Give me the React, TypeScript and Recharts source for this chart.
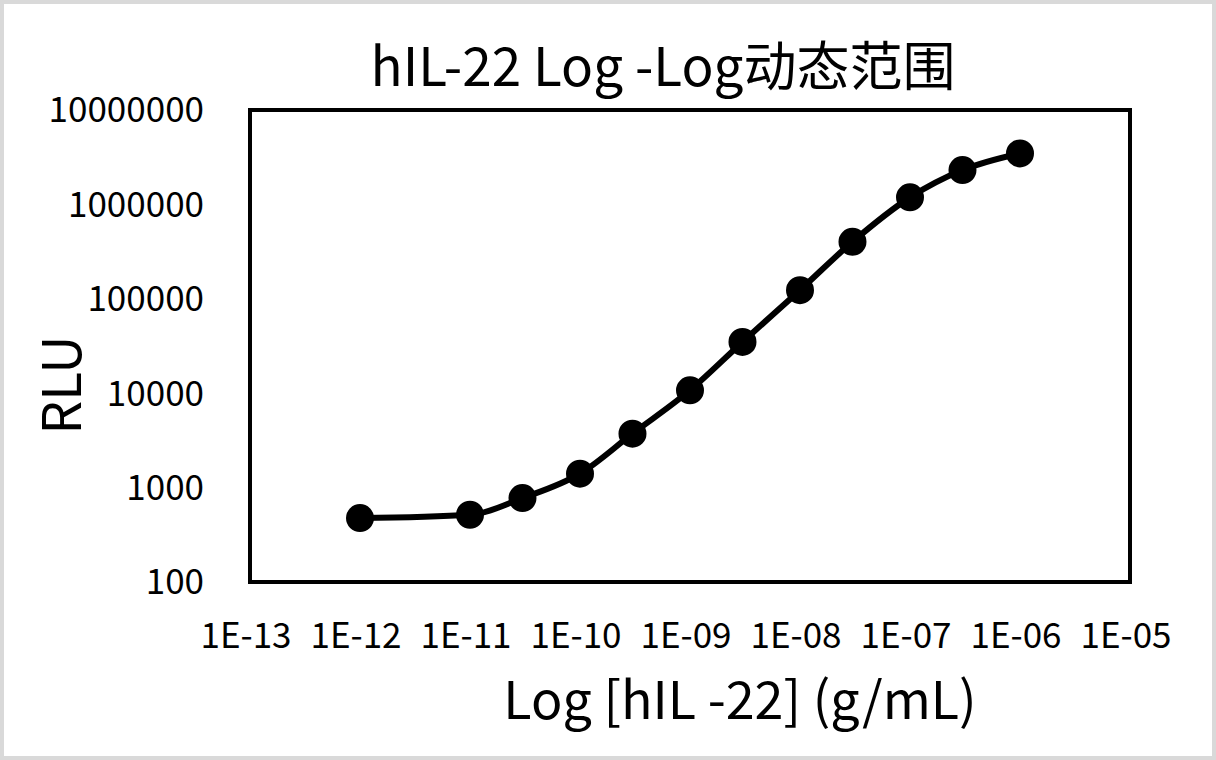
import React from 'react';
import { LineChart, Line, XAxis, YAxis, ReferenceArea } from 'recharts';

const concentrations = [1e-12, 1e-11, 3e-11, 1e-10, 3e-10, 1e-9, 3e-9, 1e-8, 3e-8, 1e-7, 3e-7, 1e-6];
const rluValues = [475, 516, 774, 1404, 3728, 10735, 34910, 123400, 401300, 1187000, 2310000, 3470000];

const xTicks = [1e-13, 1e-12, 1e-11, 1e-10, 1e-9, 1e-8, 1e-7, 1e-6, 1e-5];
const xTickLabels = ['1E-13', '1E-12', '1E-11', '1E-10', '1E-09', '1E-08', '1E-07', '1E-06', '1E-05'];
const yTicks = [100, 1000, 10000, 100000, 1000000, 10000000];
const yTickLabels = ['100', '1000', '10000', '100000', '1000000', '10000000'];

const title = 'hIL-22 Log -Log动态范围';
const xTitle = 'Log [hIL -22] (g/mL)';
const yTitle = 'RLU';

const FONT = '"Noto Sans CJK SC", "Noto Sans", sans-serif';

const data = concentrations.map((c, i) => ({ conc: c, rlu: rluValues[i] }));

export default function App() {
  return (
    <div style={{ position: 'absolute', left: 0, top: 0, width: 1216, height: 760, background: '#fff', overflow: 'hidden' }}>
      <LineChart width={1216} height={760} data={data} margin={{ top: 110, right: 86, bottom: 0, left: 0 }}>
        <XAxis
          dataKey="conc"
          type="number"
          scale="log"
          domain={[1e-13, 1e-5]}
          ticks={xTicks}
          allowDataOverflow
          height={178}
          axisLine={false}
          tickLine={false}
          tickSize={0}
          tickMargin={41}
          interval={0}
          tick={{ fontSize: 35, fill: '#000', fontFamily: FONT, dx: -4 }}
          tickFormatter={(v: number) => xTickLabels[xTicks.indexOf(v)] ?? ''}
        />
        <YAxis
          dataKey="rlu"
          type="number"
          scale="log"
          domain={[100, 1e7]}
          ticks={yTicks}
          allowDataOverflow
          width={250}
          axisLine={false}
          tickLine={false}
          tickSize={0}
          tickMargin={46}
          interval={0}
          tick={{ fontSize: 35, fill: '#000', fontFamily: FONT }}
          tickFormatter={(v: number) => yTickLabels[yTicks.indexOf(v)] ?? ''}
        />
        <ReferenceArea x1={1e-13} x2={1e-5} y1={100} y2={1e7} fill="none" stroke="#000" strokeWidth={4} ifOverflow="visible" />
        <Line
          dataKey="rlu"
          type="monotone"
          stroke="#000"
          strokeWidth={6}
          dot={{ r: 13, fill: '#000', stroke: '#000', strokeWidth: 2 }}
          activeDot={false}
          isAnimationActive={false}
        />
      </LineChart>
      <svg width={1216} height={760} style={{ position: 'absolute', left: 0, top: 0, pointerEvents: 'none' }}>
        <text x={663} y={86} textAnchor="middle" fontSize={53} fontFamily={FONT} fill="#000">{title}</text>
        <text x={740} y={719} textAnchor="middle" fontSize={52} fontFamily={FONT} fill="#000">{xTitle}</text>
        <text transform="translate(81,385) rotate(-90)" textAnchor="middle" fontSize={53} fontFamily={FONT} fill="#000">{yTitle}</text>
      </svg>
      <div style={{ position: 'absolute', left: 0, top: 0, width: 1216, height: 760, boxSizing: 'border-box', border: '4px solid #d9d9d9', pointerEvents: 'none' }} />
    </div>
  );
}
